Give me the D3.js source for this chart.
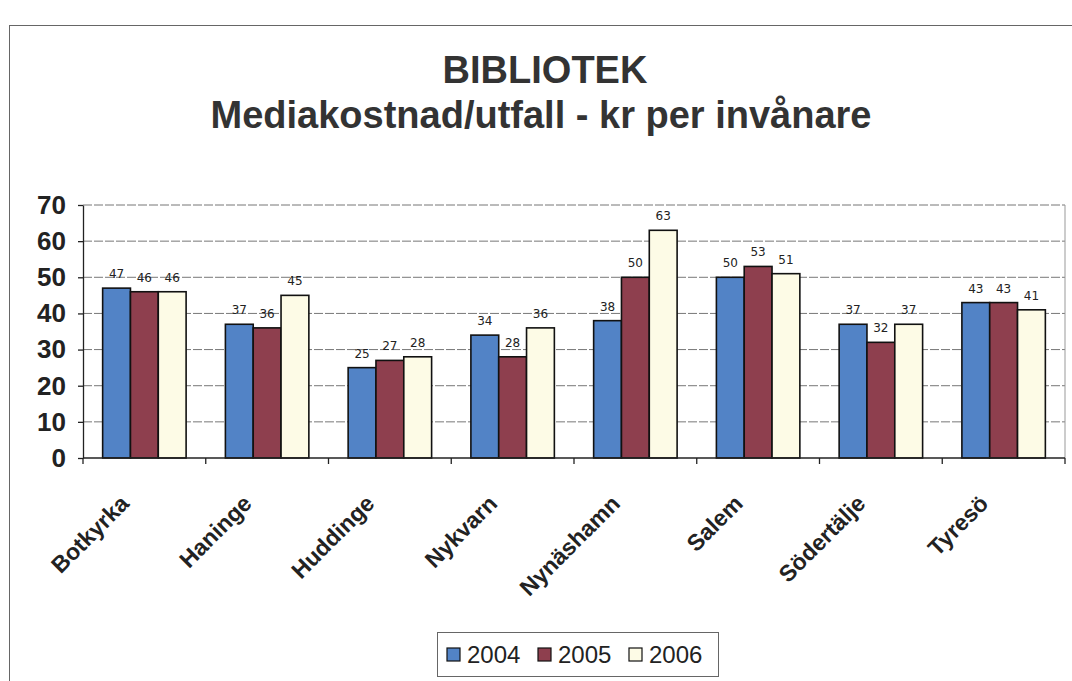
<!DOCTYPE html>
<html><head><meta charset="utf-8">
<script src="https://cdn.jsdelivr.net/npm/d3@7"></script>
<style>body{margin:0;background:#fff}svg{display:block}</style>
</head><body>
<script>
const categories = ["Botkyrka","Haninge","Huddinge","Nykvarn","Nynäshamn","Salem","Södertälje","Tyresö"];
const series = ["2004","2005","2006"];
const v2004 = [47,37,25,34,38,50,37,43];
const v2005 = [46,36,27,28,50,53,32,43];
const v2006 = [46,45,28,36,63,51,37,41];
const yTicks = [0,10,20,30,40,50,60,70];
const values = [v2004, v2005, v2006];
const colors = ["#5283c6","#8e3f4e","#fdfbe6"];

const W = 1072, H = 681;
const m = {left:83, right:1065, top:205, bottom:458};
const svg = d3.select("body").append("svg").attr("width",W).attr("height",H);
const font = "'Liberation Sans', Arial, sans-serif";

svg.append("rect").attr("x",9.5).attr("y",25.5).attr("width",W+10).attr("height",H+10)
  .attr("fill","none").attr("stroke","#666").attr("stroke-width",1);

svg.append("text").attr("x",545).attr("y",83).attr("text-anchor","middle")
  .attr("font-family",font).attr("font-weight","bold").attr("font-size",38).attr("fill","#333")
  .text("BIBLIOTEK");
svg.append("text").attr("x",541).attr("y",128).attr("text-anchor","middle")
  .attr("font-family",font).attr("font-weight","bold").attr("font-size",38).attr("fill","#333")
  .text("Mediakostnad/utfall - kr per invånare");

const x0 = d3.scaleBand().domain(categories).range([m.left,m.right]).paddingInner(0.32).paddingOuter(0.16);
const x1 = d3.scaleBand().domain(series).range([0,x0.bandwidth()]);
const y = d3.scaleLinear().domain([0,70]).range([m.bottom,m.top]);

// gridlines
svg.append("g").selectAll("line").data(yTicks.filter(d=>d>0)).join("line")
  .attr("x1",m.left).attr("x2",m.right).attr("y1",d=>y(d)).attr("y2",d=>y(d))
  .attr("stroke","#777").attr("stroke-width",1).attr("stroke-dasharray","9,2");
svg.append("line").attr("x1",m.right).attr("x2",m.right).attr("y1",m.top).attr("y2",m.bottom)
  .attr("stroke","#999");

// bars
const g = svg.append("g");
series.forEach((s,si)=>{
  g.selectAll(".b"+si).data(categories).join("rect")
    .attr("x",c=>x0(c)+x1(s)).attr("width",x1.bandwidth())
    .attr("y",(c,i)=>y(values[si][i])).attr("height",(c,i)=>y(0)-y(values[si][i]))
    .attr("fill",colors[si]).attr("stroke","#111").attr("stroke-width",1.6);
  g.selectAll(".l"+si).data(categories).join("text")
    .attr("x",c=>x0(c)+x1(s)+x1.bandwidth()/2).attr("y",(c,i)=>y(values[si][i])-10)
    .attr("text-anchor","middle").attr("font-family","'DejaVu Sans', sans-serif").attr("font-size",12).attr("fill","#222")
    .text((c,i)=>values[si][i]);
});

// y axis
const ya = d3.axisLeft(y).tickValues(yTicks).tickSize(5).tickSizeOuter(0).tickPadding(12);
const yg = svg.append("g").attr("transform",`translate(${m.left},0)`).call(ya);
yg.selectAll("text").attr("font-family",font).attr("font-weight","bold").attr("font-size",26).attr("fill","#222");
yg.selectAll("line,path").attr("stroke","#222").attr("stroke-width",1.3);

// x axis
const xg = svg.append("g").attr("transform",`translate(0,${m.bottom})`);
xg.append("line").attr("x1",m.left).attr("x2",m.right).attr("stroke","#222").attr("stroke-width",1.3);
const bounds = categories.map(c=>x0(c)-x0.step()*0.16).concat([m.right]);
xg.selectAll(".t").data(bounds).join("line").attr("x1",d=>d).attr("x2",d=>d).attr("y1",0).attr("y2",6)
  .attr("stroke","#222").attr("stroke-width",1.3);
xg.selectAll(".c").data(categories).join("text")
  .attr("transform",c=>`translate(${x0(c)+x0.bandwidth()/2-14},${47}) rotate(-45)`)
  .attr("text-anchor","end").attr("font-family",font).attr("font-weight","bold")
  .attr("font-size",23).attr("fill","#222").text(c=>c);

// legend
const lg = svg.append("g");
lg.append("rect").attr("x",437.5).attr("y",632.5).attr("width",281).attr("height",44)
  .attr("fill","#fff").attr("stroke","#666");
const lx = [447,538,629];
series.forEach((s,i)=>{
  lg.append("rect").attr("x",lx[i]).attr("y",648).attr("width",13).attr("height",13)
    .attr("fill",colors[i]).attr("stroke","#111").attr("stroke-width",1.2);
  lg.append("text").attr("x",lx[i]+20).attr("y",663).attr("font-family",font)
    .attr("font-size",24).attr("fill","#222").text(s);
});
</script>
</body></html>
